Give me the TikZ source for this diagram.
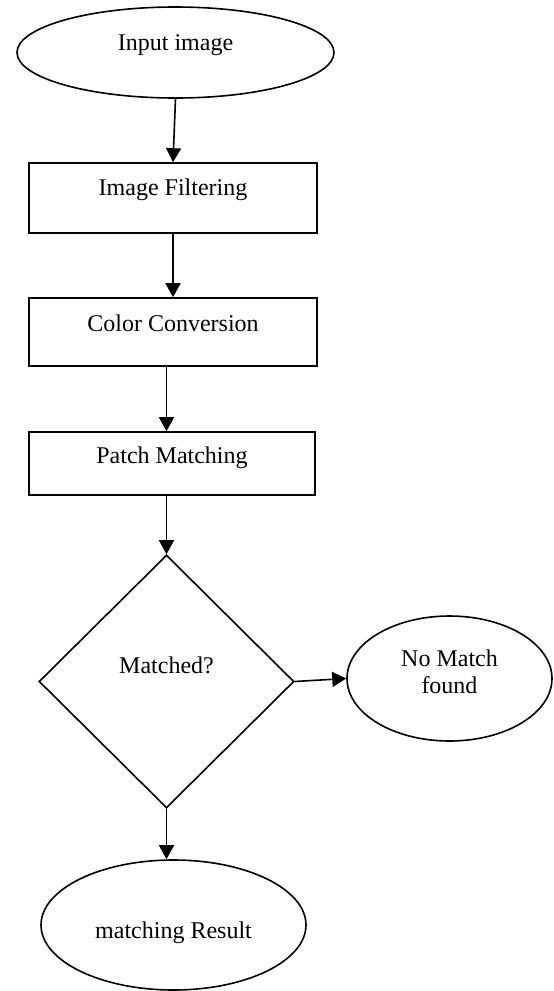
\documentclass[tikz,border=0pt]{standalone}
\usepackage{fontspec}
\setmainfont{Liberation Serif}
\usepackage{tikz}
\usetikzlibrary{positioning,arrows.meta,shapes.geometric}

\begin{document}
\begin{tikzpicture}[x=0.5pt, y=-0.5pt,
    every node/.style={font=\fontsize{12}{13.5}\selectfont},
    oval/.style={draw, ellipse, line width=0.8pt, inner sep=0pt},
    procbox/.style={draw, rectangle, line width=0.8pt, inner sep=0pt, minimum width=144pt, text height=8pt, text depth=9.5pt},
    decision/.style={draw, diamond, line width=0.8pt, inner sep=0pt, aspect=1},
    flow/.style={line width=0.8pt, -{Triangle[length=7pt, width=7.5pt]}}]
                \useasboundingbox (0,0) rectangle (553,991);

                % Start
                \node[oval, minimum width=158.5pt, minimum height=45.5pt, text height=8pt, text depth=10.5pt] (input) at (175.5,52.5) {Input image};

                % Processing steps
                \node[procbox, minimum height=35pt, text depth=11pt] (filter) at (173,198) {Image Filtering};
                \node[procbox, minimum height=34pt, text depth=9pt] (convert) at (173,332) {Color Conversion};
                \node[procbox, minimum width=143pt, minimum height=31.5pt, text depth=8.5pt] (patch) at (172,463.5) {Patch Matching};

                % Decision
                \node[decision, minimum width=127.5pt, minimum height=126.5pt, text height=8pt, text depth=16.5pt] (matched) at (166.5,681.5) {Matched?};

                % Outcomes
                \node[oval, minimum width=102.5pt, minimum height=62.5pt, align=center] (nomatch) at (449.5,678.5) {No Match\\found\rule[-7pt]{0pt}{0pt}};
                \node[oval, minimum width=132.5pt, minimum height=65pt, text height=15pt, text depth=2pt] (result) at (173.5,925) {matching Result};

                % Arrows
                \draw[flow] (input.south) -- (filter.north);
                \draw[flow] (filter) -- (convert);
                \draw[flow] (convert.south -| matched.north) -- (patch.north -| matched.north);
                \draw[flow] (patch.south -| matched.north) -- (matched.north);
                \draw[flow] (matched.east) -- (nomatch.west);
                \draw[flow] (matched.south) -- (matched.south |- result.north);
            \end{tikzpicture}
\end{document}
